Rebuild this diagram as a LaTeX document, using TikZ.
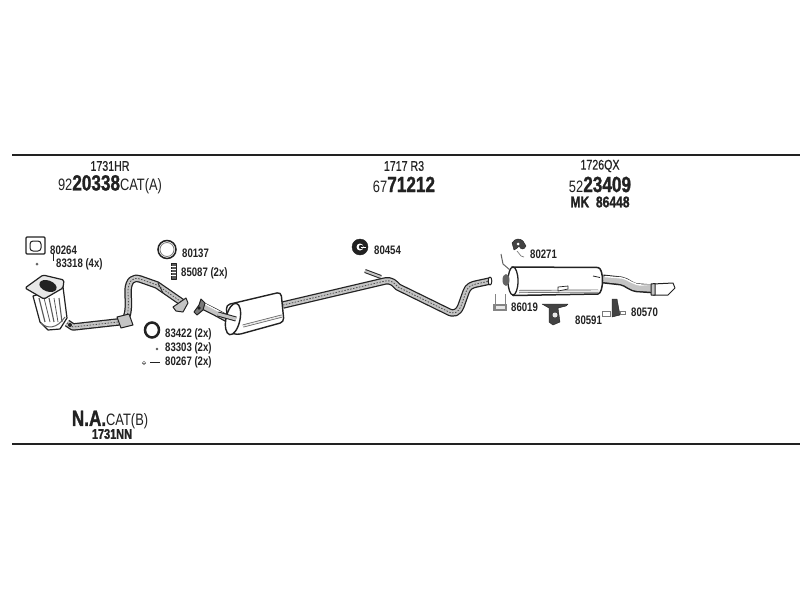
\documentclass[tikz,border=0pt]{standalone}
\usepackage{fontspec}
\setmainfont[FakeStretch=0.78]{Liberation Sans}
\newfontfamily\boldcond[FakeStretch=0.78,FakeBold=1.2]{Liberation Sans Bold}
\newfontfamily\headf[FakeStretch=0.76,FakeBold=0.5]{Liberation Sans}
\usetikzlibrary{calc}
\definecolor{ink}{HTML}{222222}
\definecolor{pipefill}{HTML}{C4C4C4}
\definecolor{bodyfill}{HTML}{E8E8E8}
\tikzset{
  rule/.style={draw=ink,line width=2pt},
  lbl/.style={inner sep=0pt,text=ink,font=\fontsize{12.3}{12}\selectfont\bfseries},
  head/.style={inner sep=0pt,text=ink,font=\headf\fontsize{14}{14}\selectfont},
  num/.style={inner sep=0pt,text=ink,font=\fontsize{16.5}{17}\selectfont},
  part/.style={draw=ink,line width=1pt,fill=bodyfill,line join=round},
  dark/.style={draw=ink,fill=ink,line join=round},
  pipeO/.style={draw=ink,line width=7.5pt,line join=round,line cap=butt},
  pipeI/.style={draw=pipefill,line width=5pt,line join=round,line cap=butt},
  pipeH/.style={draw=white,line width=1.2pt,line join=round,line cap=butt},
  pipeS/.style={draw=ink!80,line width=0.8pt,dash pattern=on 1.5pt off 1.5pt},
}
\newcommand{\bigd}[1]{{\boldcond\fontsize{22}{22}\selectfont #1}}
\begin{document}
\begin{tikzpicture}[x=1pt,y=-1pt]
\useasboundingbox (0,0) rectangle (800,600);
\fill[white] (0,0) rectangle (800,600);
\draw[rule] (12,155) -- (800,155);
\draw[rule] (12,443.5) -- (800,443.5);

% headings
\node[head] (h1) at (110,166) {1731HR};
\node[num] (n1) at (110,184.5) {92\bigd{20338}CAT(A)};
\node[head] (h2) at (404,166) {1717 R3};
\node[num] (n2) at (404,184.5) {67\bigd{71212}};
\node[head] (h3) at (600,166) {1726QX};
\node[num] (n3) at (600,184.5) {52\bigd{23409}};
\node[inner sep=0pt,text=ink,font=\boldcond\fontsize{15.5}{15}\selectfont] (n4) at (600,202) {MK\ \ 86448};
\node[num] (n5) at (110,420) {\bigd{N.A.}CAT(B)};
\node[head,font=\boldcond\fontsize{14}{14}\selectfont] (h5) at (112,434) {1731NN};

% part labels
\node[lbl,anchor=west] (l80264) at (50,250) {80264};
\node[lbl,anchor=west] (l83318) at (56,264) {83318 (4x)};
\node[lbl,anchor=west] (l80137) at (182,253.5) {80137};
\node[lbl,anchor=west] (l85087) at (181,273) {85087 (2x)};
\node[lbl,anchor=west] (l83422) at (165,334) {83422 (2x)};
\node[lbl,anchor=west] (l83303) at (165,348) {83303 (2x)};
\node[lbl,anchor=west] (l80267) at (165,362) {80267 (2x)};
\node[lbl,anchor=west] (l80454) at (374,250) {80454};
\node[lbl,anchor=west] (l80271) at (530,254) {80271};
\node[lbl,anchor=west] (l86019) at (511,307) {86019};
\node[lbl,anchor=west] (l80591) at (575,320) {80591};
\node[lbl,anchor=west] (l80570) at (631,312) {80570};

% gasket 80264
\draw[ink,line width=1.2pt,fill=white,rounded corners=1pt] (26,237) -- (45,237) -- (45,254) -- (26,254) -- cycle;
\draw[draw=ink,line width=1pt,rounded corners=3pt] (30,241) rectangle (41,251);
\draw[ink,line width=.7pt] (53,254) -- (53,261);
\fill[ink!70] (37,264) circle (1.5);

% catalyst
\draw[part,fill=white,line width=1.2pt] (33,296) -- (40,322) -- (48,330) -- (60,329) -- (67,318) -- (63,287) -- cycle;
\foreach \a/\b/\w in {39/45/1.1,44/50/.8,49/54/1.1,54/58/.8,59/62/1.1}{\draw[ink!75,line width=\w pt] (\a,298) -- (\b,322);}
\draw[ink!70,line width=1pt] (41,323) .. controls (47,329) and (57,329) .. (65,317);
\draw[part,fill=bodyfill,line width=1.2pt,rounded corners=1.5pt] (25,288) -- (43,275) -- (64,280) -- (63,288) -- (44,299) -- cycle;
\fill[ink] (48,286) ellipse[x radius=9,y radius=5.5,rotate=-20];

% front pipe
\def\pA{(67,323) -- (73,327) -- (118,322) -- (125,320) .. controls (130,312) and (128,300) .. (128,290) .. controls (129,280) and (133,277) .. (140,279) -- (157,285) -- (183,303)}
\draw[pipeO] \pA; \draw[pipeI] \pA; \draw[pipeS] \pA;
\draw[part,fill=pipefill] (117,317) -- (129,314) -- (133,325) -- (121,328) -- cycle;
\fill[ink] (70,325) circle (2);
\draw[part,fill=pipefill] (173,307) -- (186,298) -- (188,303) -- (183,312) -- (176,311) -- cycle;
\draw[ink,line width=.7pt] (158,283) -- (163,293);

% small parts, left
\draw[ink,line width=1.5pt,fill=white] (167,249.5) circle (9);
\draw[ink!60,line width=.8pt] (167,249.5) circle (7);
\draw[dark,fill=ink!75] (171,263) rectangle (176,279);
\foreach \y in {266,269,272,275}{\draw[white,line width=.6pt] (171,\y) -- (176,\y);}
\draw[ink,line width=2.5pt,fill=white] (152,330) ellipse[x radius=7,y radius=7.5];
\fill[ink!75] (157,349) circle (1.3);
\draw[ink!60,line width=.6pt] (144,363) circle (1.8);
\draw[ink!60,line width=.6pt] (142,363) -- (146,363);
\draw[ink,line width=1.5pt] (150,362.5) -- (160,362.5);

% flange and pipe to middle muffler
\def\pB{(203,306) -- (215,312) -- (228,319)}
\draw[pipeO] \pB; \draw[pipeI] \pB; \draw[pipeH] (205,304) -- (228,316);
\draw[part,fill=ink!60] (194,312) -- (199,305) -- (201,299) -- (205,303) -- (203,310) -- (197,315) -- cycle;
\fill[ink] (199,308) circle (1.8);

% long pipe
\def\pC{(283,305) -- (385,281) .. controls (392,280) and (394,283) .. (398,287) -- (447,311) .. controls (454,315) and (458,313) .. (461,306) -- (466,292) .. controls (468,286) and (472,285) .. (476,284) -- (490,281)}
\draw[pipeO] \pC; \draw[pipeI] \pC; \draw[pipeS] \pC;
\draw[part,fill=white] (490,281) ellipse[x radius=1.8,y radius=4];
\def\pD{(365,271) -- (381,277)}
\draw[draw=ink,line width=4pt] \pD; \draw[draw=pipefill,line width=2pt] \pD;

% middle muffler
\draw[part,fill=white,line width=1.4pt,rounded corners=4pt] (226,305) -- (281,292) -- (284,322) -- (237,335) -- (229,332) -- cycle;
\draw[part,fill=white,line width=1.4pt,rotate around={-12:(233,319)}] (233,319) ellipse[x radius=7,y radius=16];
\draw[draw=ink!70,line width=3pt] (243,326) -- (282,316);
\draw[draw=bodyfill,line width=1.5pt] (243,326) -- (282,316);
\def\pE{(218,314) -- (236,319)}
\draw[pipeO,line width=5pt] \pE; \draw[pipeI,line width=3pt] \pE;

% clip 80454
\draw[dark] (360,247) circle (8);
\fill[white] (360,247) circle (3.5);
\fill[ink] (361,247) circle (2.2);
\draw[white,line width=1pt] (361,247) -- (366,247);

% rear silencer
\def\pF{(603,279) -- (621,281) .. controls (628,282) and (630,288) .. (640,288) -- (654,289)}
\draw[draw=ink,line width=9pt,line join=round] \pF;
\draw[draw=pipefill,line width=6pt,line join=round] \pF;
\draw[draw=white,line width=1.4pt] (605,276.5) -- (622,278) .. controls (630,280) and (633,285) .. (642,285) -- (652,285);
\draw[part,fill=white] (653,284) -- (673,283) -- (675,288) -- (668,295) -- (653,295) -- cycle;
\draw[part,fill=pipefill] (651,284) -- (655,283.5) -- (655,295) -- (651,295) -- cycle;
\draw[part,fill=white,line width=1.5pt] (512,267) -- (598,267.5) .. controls (604,268) and (604,293) .. (598,294) -- (513,295.5) -- cycle;
\draw[part,fill=white,line width=1.3pt] (513,281) ellipse[x radius=5,y radius=14];
\draw[draw=ink!70,line width=3pt] (519,291.5) -- (598,291);
\draw[draw=bodyfill,line width=1.6pt] (519,291.5) -- (598,291);
\draw[part,fill=white,line width=.7pt] (558,287) -- (568,286) -- (568,289) -- (558,291) -- cycle;
\draw[ink,line width=.8pt] (593,276) -- (600,277.5);
\fill[ink!70] (506,280) ellipse[x radius=3.5,y radius=6];
\draw[ink!70,line width=1pt] (501,254) -- (503,264) -- (510,270);

% mount 80271
\draw[dark,fill=ink!85] (512,243) .. controls (515,238) and (520,238) .. (523,241) -- (526,246) .. controls (524,250) and (521,250) .. (519,246) .. controls (517,249) and (515,249) .. (514,250) -- cycle;
\fill[white] (518,244) circle (1.5);
\draw[ink!60,line width=.7pt] (517,251) -- (521,256) -- (524,257);

% clamp 86019
\draw[ink!55,line width=1.1pt,fill=bodyfill] (494,305) rectangle (506,310);
\draw[ink!55,line width=1pt] (495,294) -- (495,311);
\draw[ink!55,line width=1pt] (505,294) -- (505,311);

% hanger 80591
\draw[dark,fill=ink!85] (542,304) -- (568,304) -- (566,306) -- (558,308) -- (560,322) -- (553,325) -- (549,322) -- (549,308) -- cycle;
\fill[bodyfill] (555,315) circle (2.5);

% hanger 80570
\draw[dark,fill=ink!85] (612,299) -- (617,299) -- (620,315) -- (612,317) -- cycle;
\draw[ink!60,line width=.8pt] (602,311) rectangle (610,316);
\draw[ink!60,line width=.8pt] (620,311) rectangle (625,314);
\end{tikzpicture}
\end{document}
